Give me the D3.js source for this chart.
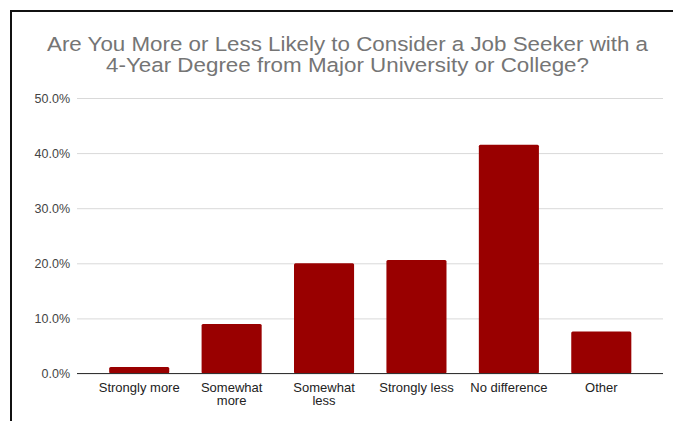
<!DOCTYPE html>
<html>
<head>
<meta charset="utf-8">
<script src="https://cdn.jsdelivr.net/npm/d3@7"></script>
<style>
  html, body { margin: 0; padding: 0; background: #fff; }
  svg { display: block; }
</style>
</head>
<body>
<svg id="chart" width="673" height="421"></svg>
<script>
// Survey responses (share of respondents)
const categories = ["Strongly more", "Somewhat more", "Somewhat less", "Strongly less", "No difference", "Other"];
const shares = [1.2, 9.0, 20.0, 20.6, 41.5, 7.6];
const tickValues = [0, 10, 20, 30, 40, 50];
const titleLines = [
  "Are You More or Less Likely to Consider a Job Seeker with a",
  "4-Year Degree from Major University or College?"
];

const svg = d3.select("#chart");
const W = 673, H = 421;
const font = "Arial, 'Liberation Sans', sans-serif";

// Frame around the chart
svg.append("path")
  .attr("d", `M11,${H} L11,11 L${W},11`)
  .attr("fill", "none")
  .attr("stroke", "#111")
  .attr("stroke-width", 2);

// Title, two centred lines stretched to a fixed width
const titleWidths = [601, 483];
svg.append("g").selectAll("text")
  .data(titleLines)
  .join("text")
  .attr("x", 347.5)
  .attr("y", (d, i) => 51 + i * 21)
  .attr("text-anchor", "middle")
  .attr("font-family", font)
  .attr("font-size", 20.5)
  .attr("fill", "#757575")
  .attr("textLength", (d, i) => titleWidths[i])
  .attr("lengthAdjust", "spacingAndGlyphs")
  .text(d => d);

const gridLeft = 77, gridRight = 663;
const y = d3.scaleLinear().domain([0, 50]).range([373.5, 98]);
const x = d3.scaleBand().domain(categories).range([93, 647.5]).paddingInner(0.35).paddingOuter(0.175);

// Gridlines and y tick labels
const yAxis = d3.axisLeft(y)
  .tickValues(tickValues)
  .tickSize(-(gridRight - gridLeft))
  .tickPadding(7)
  .tickFormat(d => d.toFixed(1) + "%");

const gy = svg.append("g")
  .attr("transform", `translate(${gridLeft},0)`)
  .call(yAxis);
gy.select(".domain").remove();
gy.selectAll(".tick line").attr("stroke", "#d9d9d9").attr("stroke-width", 1);
gy.selectAll(".tick text")
  .attr("font-family", font)
  .attr("font-size", 12.5)
  .attr("fill", "#444");

// Bars
svg.append("g").selectAll("rect")
  .data(categories)
  .join("rect")
  .attr("x", d => x(d))
  .attr("width", x.bandwidth())
  .attr("y", (d, i) => y(shares[i]))
  .attr("height", (d, i) => y(0) - y(shares[i]))
  .attr("rx", 1.5)
  .attr("fill", "#990000");

// Baseline
svg.append("line")
  .attr("x1", gridLeft).attr("x2", gridRight)
  .attr("y1", y(0)).attr("y2", y(0))
  .attr("stroke", "#333")
  .attr("stroke-width", 1.2);

// Category labels (wrapped where the label is long)
const wrapped = {
  "Somewhat more": ["Somewhat", "more"],
  "Somewhat less": ["Somewhat", "less"]
};
const xAxis = d3.axisBottom(x).tickSize(0).tickPadding(0).tickFormat(() => "");
const gx = svg.append("g").attr("transform", `translate(0,${y(0)})`).call(xAxis);
gx.select(".domain").remove();
gx.selectAll(".tick").each(function(d) {
  const lines = wrapped[d] || [d];
  const t = d3.select(this).append("text")
    .attr("text-anchor", "middle")
    .attr("font-family", font)
    .attr("font-size", 13)
    .attr("fill", "#222");
  lines.forEach((ln, i) => {
    t.append("tspan").attr("x", 0).attr("y", 18 + i * 13.5).text(ln);
  });
});
</script>
</body>
</html>
